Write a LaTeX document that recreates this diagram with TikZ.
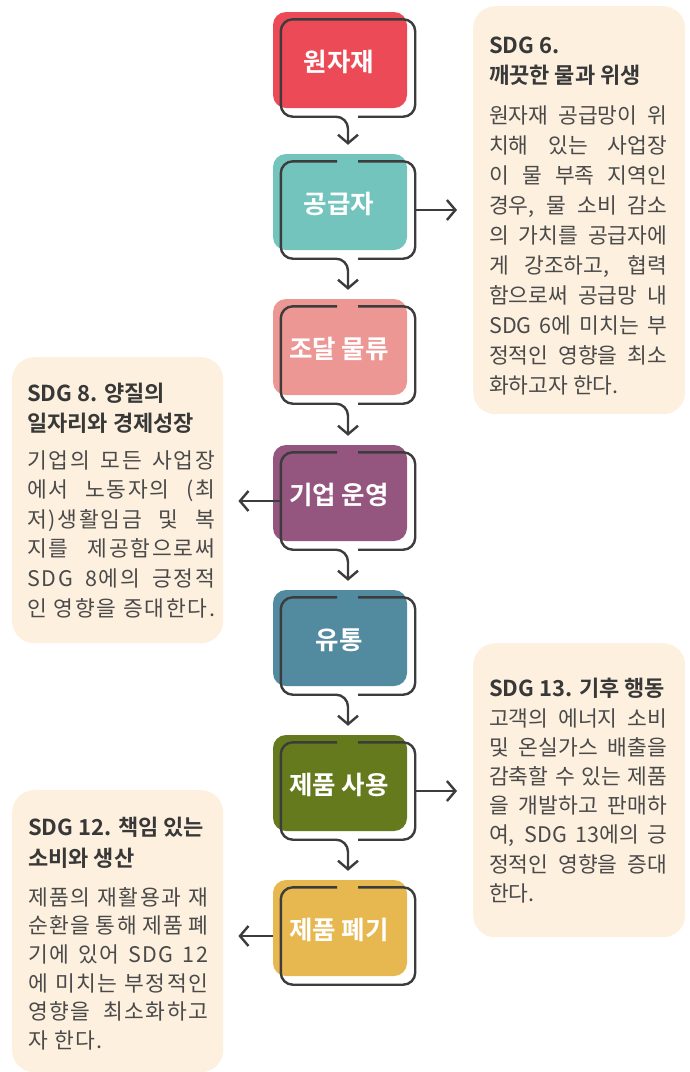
\documentclass[tikz,border=0pt]{standalone}
\usepackage{fontspec}
\setmainfont{Noto Sans CJK KR}[BoldFont={Noto Sans CJK KR Bold}]
\usetikzlibrary{arrows.meta,calc}
\definecolor{cA}{HTML}{EC4A57}
\definecolor{cB}{HTML}{73C4BC}
\definecolor{cC}{HTML}{ED9795}
\definecolor{cD}{HTML}{94567F}
\definecolor{cE}{HTML}{528AA0}
\definecolor{cF}{HTML}{657A1C}
\definecolor{cG}{HTML}{E8B850}
\definecolor{lineC}{HTML}{3C3C3C}
\definecolor{panelC}{HTML}{FDF0DE}
\definecolor{titleC}{HTML}{383838}
\definecolor{bodyC}{HTML}{4A4A4A}
\newcommand\jl[1]{\makebox[\linewidth][s]{#1}\\}
\begin{document}
\begin{tikzpicture}[x=1pt,y=-1pt,
  cbox/.style={rectangle, rounded corners=13pt, minimum width=134pt, minimum height=96pt, inner sep=0pt, draw=none},
  obox/.style={rectangle, minimum width=134pt, minimum height=97pt, inner sep=0pt, draw=none},
  lbl/.style={anchor=base, text=white, font=\fontsize{25.5}{28}\selectfont\bfseries, inner sep=0pt},
  outl/.style={draw=lineC, line width=2.4pt, rounded corners=12pt},
  flow/.style={draw=lineC, line width=2.4pt, -{Straight Barb[length=8.5pt,width=20pt]}},
  panel/.style={rectangle, rounded corners=22pt, fill=panelC, inner sep=0pt, anchor=north west, draw=none},
  ttl/.style={anchor=base west, inner sep=0pt, text=titleC, font=\bfseries},
  bdy/.style={anchor=base west, inner sep=0pt, text=bodyC},
]
\useasboundingbox (0,0) rectangle (690,1072);

% panels
\node[panel, minimum width=212pt, minimum height=408pt] (p1) at (473,6) {};
\node[panel, minimum width=211pt, minimum height=286pt] (p2) at (12,357) {};
\node[panel, minimum width=212pt, minimum height=294pt] (p3) at (473,643) {};
\node[panel, minimum width=211pt, minimum height=282pt] (p4) at (12,790) {};

% panel texts
\node[ttl] (t1) at (489,53) {\parbox[t]{178pt}{\fontsize{22}{30.5}\selectfont SDG 6.\\깨끗한 물과 위생}};
\node[bdy] (d1) at (489,123) {\parbox[t]{178pt}{\fontsize{21.5}{30.1}\selectfont
\jl{원자재 공급망이 위}
\jl{치해 있는 사업장}
\jl{이 물 부족 지역인}
\jl{경우, 물 소비 감소}
\jl{의 가치를 공급자에}
\jl{게 강조하고, 협력}
\jl{함으로써 공급망 내}
\jl{SDG 6에 미치는 부}
\jl{정적인 영향을 최소}
화하고자 한다.}};

\node[ttl] (t2) at (27,401) {\parbox[t]{188pt}{\fontsize{22}{30}\selectfont SDG 8. 양질의\\일자리와 경제성장}};
\node[bdy] (d2) at (27,468) {\parbox[t]{188pt}{\fontsize{21.5}{29.6}\selectfont\addfontfeatures{LetterSpace=8}%
\jl{기업의 모든 사업장}
\jl{에서 노동자의 (최}
\jl{저)생활임금 및 복}
\jl{지를 제공함으로써}
\jl{SDG 8에의 긍정적}
\makebox[\linewidth][s]{인 영향을 증대한다.}}};

\node[ttl] (t3) at (489,696) {\parbox[t]{178pt}{\fontsize{22}{30}\selectfont SDG 13. 기후 행동}};
\node[bdy] (d3) at (489,726) {\parbox[t]{178pt}{\fontsize{21.5}{29.2}\selectfont
\jl{고객의 에너지 소비}
\jl{및 온실가스 배출을}
\jl{감축할 수 있는 제품}
\jl{을 개발하고 판매하}
\jl{여, SDG 13에의 긍}
\jl{정적인 영향을 증대}
한다.}};

\node[ttl] (t4) at (28,835) {\parbox[t]{180pt}{\fontsize{22}{31}\selectfont SDG 12. 책임 있는\\소비와 생산}};
\node[bdy] (d4) at (28,905) {\parbox[t]{180pt}{\fontsize{21.5}{28.7}\selectfont\addfontfeatures{LetterSpace=7}%
\jl{제품의 재활용과 재}
\jl{순환을 통해 제품 폐}
\jl{기에 있어 SDG 12}
\jl{에 미치는 부정적인}
\jl{영향을 최소화하고}
자 한다.}};

% process boxes
\foreach \i/\ty/\col in {1/12/cA, 2/154/cB, 3/299/cC, 4/445/cD, 5/590/cE, 6/735/cF, 7/880/cG}{
  \node[cbox, fill=\col] (b\i) at (340,\ty+48) {};
  \node[obox] (o\i) at (348,\ty+56) {};
}

% outlines and flow connectors
\draw[outl, flow, shorten >=9pt] ($(o1.south)+(10,0)$) -- (o1.south east) -- (o1.north east) -- (o1.north west) -- (o1.south west) -- (o1.south) -- (o1.south |- b2.north);
\foreach \i/\j in {2/3,3/4,4/5,5/6,6/7}{
  \draw[outl] ($(o\i.north)+(10,0)$) -- (o\i.north east) -- (o\i.south east) -- ($(o\i.south)+(10,0)$);
  \draw[outl, flow, shorten >=9pt] ($(o\i.north)+(-11,0)$) -- (o\i.north west) -- (o\i.south west) -- (o\i.south) -- (o\i.south |- b\j.north);
}
\draw[outl] ($(o7.north)+(10,0)$) -- (o7.north east) -- (o7.south east) -- (o7.south west) -- (o7.north west) -- ($(o7.north)+(-11,0)$);

% side connectors
\draw[flow, shorten >=16pt] (o2.east) -- (o2.east -| p1.west);
\draw[flow, shorten >=15pt] (o4.west) -- (o4.west -| p2.east);
\draw[flow, shorten >=16pt] (o6.east) -- (o6.east -| p3.west);
\draw[flow, shorten >=15pt] (b7.west |- o7.west) -- (o7.west -| p4.east);

% labels
\node[lbl] (l1) at (339,71) {원자재};
\node[lbl] (l2) at (339,213) {공급자};
\node[lbl] (l3) at (339,358) {조달 물류};
\node[lbl] (l4) at (339,504) {기업 운영};
\node[lbl] (l5) at (339,649) {유통};
\node[lbl] (l6) at (339,794) {제품 사용};
\node[lbl] (l7) at (339,939) {제품 폐기};
\end{tikzpicture}
\end{document}
